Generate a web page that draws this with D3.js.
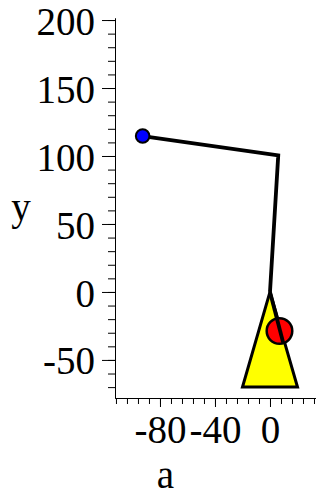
<!DOCTYPE html>
<html>
<head>
<meta charset="utf-8">
<script src="https://cdn.jsdelivr.net/npm/d3@7"></script>
<style>
  html, body { margin: 0; padding: 0; background: #fff; }
  svg { display: block; }
</style>
</head>
<body>
<svg id="chart"></svg>
<script>
// tick labels
const xTicks = [-80, -40, 0];
const yTicks = [-50, 0, 50, 100, 150, 200];
const xMinor = d3.range(-112, 33, 8);
const yMinor = d3.range(-70, 201, 10);

// mechanism geometry (data coords)
const armX = [-92.6, 6, 0];
const armY = [114.7, 100.5, 0];
const rodX = [0, 9.7];
const rodY = [0, -37.7];
const baseX = [-20, 20, 0];
const baseY = [-70, -70, 0];
const bob = [6.9, -28.7];
const joint = [-92.6, 114.7];

const width = 316, height = 497;
const serif = "'Liberation Serif', 'Times New Roman', Times, serif";
const svg = d3.select("#chart")
    .attr("width", width)
    .attr("height", height);

const x = d3.scaleLinear().domain([-112.7, 34]).range([115, 316.75]);
const y = d3.scaleLinear().domain([-78, 201.5]).range([398, 18]);

const fmt = d => String(d);

// y axis
svg.append("g")
    .attr("transform", "translate(115,0)")
    .call(d3.axisLeft(y).tickValues(yMinor).tickSize(7).tickSizeOuter(0).tickFormat(""));
svg.append("g")
    .attr("transform", "translate(115,0)")
    .call(d3.axisLeft(y).tickValues(yTicks).tickSize(13).tickSizeOuter(0).tickPadding(7).tickFormat(fmt))
    .call(g => g.selectAll("text").attr("dy", "0.36em"));

// x axis
svg.append("g")
    .attr("transform", "translate(0,398)")
    .call(d3.axisBottom(x).tickValues(xMinor).tickSize(6).tickSizeOuter(0).tickFormat(""));
svg.append("g")
    .attr("transform", "translate(0,398)")
    .call(d3.axisBottom(x).tickValues(xTicks).tickSize(9).tickSizeOuter(0).tickPadding(8).tickFormat(fmt));

svg.selectAll("g").attr("font-family", null).attr("font-size", null);
svg.selectAll(".tick text")
    .style("font-family", serif)
    .style("font-size", "39px")
    .attr("fill", "#000");
svg.selectAll(".domain, .tick line").attr("stroke", "#000");

// axis titles
svg.append("text")
    .attr("x", 21).attr("y", 220)
    .attr("text-anchor", "middle")
    .style("font-family", serif)
    .style("font-size", "39px")
    .text("y");
svg.append("text")
    .attr("x", 165.5).attr("y", 488)
    .attr("text-anchor", "middle")
    .style("font-family", serif)
    .style("font-size", "39px")
    .text("a");

const line = d3.line().x(d => x(d[0])).y(d => y(d[1]));

// base triangle
svg.append("path")
    .datum(d3.zip(baseX, baseY))
    .attr("d", d => line(d) + "Z")
    .attr("fill", "#ffff00")
    .attr("stroke", "#000")
    .attr("stroke-width", 3)
    .attr("stroke-linejoin", "miter");

// pendulum bob
svg.append("circle")
    .attr("cx", x(bob[0]))
    .attr("cy", y(bob[1]))
    .attr("r", 12.8)
    .attr("fill", "#ff0000")
    .attr("stroke", "#000")
    .attr("stroke-width", 2.5);

// rod
svg.append("path")
    .datum(d3.zip(rodX, rodY))
    .attr("d", line)
    .attr("fill", "none")
    .attr("stroke", "#000")
    .attr("stroke-width", 3.8);

// arm
svg.append("path")
    .datum(d3.zip(armX, armY))
    .attr("d", line)
    .attr("fill", "none")
    .attr("stroke", "#000")
    .attr("stroke-width", 3.8)
    .attr("stroke-linejoin", "miter");

// end joint
svg.append("circle")
    .attr("cx", x(joint[0]))
    .attr("cy", y(joint[1]))
    .attr("r", 6.8)
    .attr("fill", "#0000ff")
    .attr("stroke", "#000")
    .attr("stroke-width", 2);
</script>
</body>
</html>
